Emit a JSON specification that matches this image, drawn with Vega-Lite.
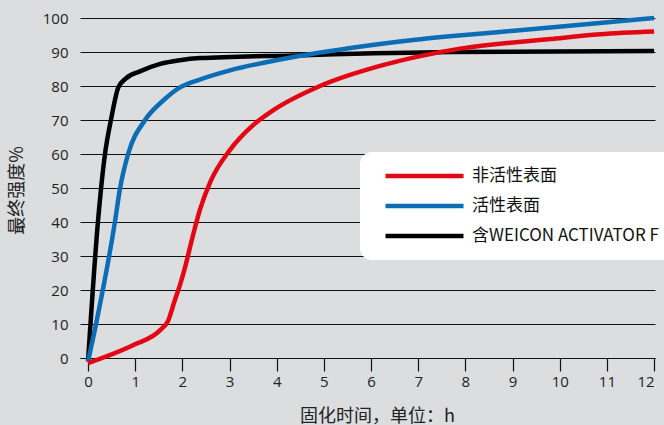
{
  "$schema": "https://vega.github.io/schema/vega-lite/v6.json",
  "width": 575,
  "height": 340,
  "autosize": {"type": "none"},
  "padding": {"left": 80, "top": 18, "right": 9, "bottom": 67},
  "background": "#dcdddf",
  "config": {
    "view": {"stroke": null},
    "font": "Open Sans, Noto Sans CJK SC, sans-serif"
  },
  "data": {
    "values": [
      {"s": "含WEICON ACTIVATOR F", "t": 0, "v": -1},
      {"s": "含WEICON ACTIVATOR F", "t": 0.21, "v": 40},
      {"s": "含WEICON ACTIVATOR F", "t": 0.36, "v": 60},
      {"s": "含WEICON ACTIVATOR F", "t": 0.5, "v": 71},
      {"s": "含WEICON ACTIVATOR F", "t": 0.64, "v": 79.5},
      {"s": "含WEICON ACTIVATOR F", "t": 0.8, "v": 82.2},
      {"s": "含WEICON ACTIVATOR F", "t": 1.1, "v": 84.3},
      {"s": "含WEICON ACTIVATOR F", "t": 1.53, "v": 86.5},
      {"s": "含WEICON ACTIVATOR F", "t": 1.95, "v": 87.6},
      {"s": "含WEICON ACTIVATOR F", "t": 2.37, "v": 88.2},
      {"s": "含WEICON ACTIVATOR F", "t": 4.35, "v": 89},
      {"s": "含WEICON ACTIVATOR F", "t": 7.67, "v": 90},
      {"s": "含WEICON ACTIVATOR F", "t": 12, "v": 90.3},
      {"s": "活性表面", "t": 0, "v": -1},
      {"s": "活性表面", "t": 0.17, "v": 10},
      {"s": "活性表面", "t": 0.57, "v": 40},
      {"s": "活性表面", "t": 0.68, "v": 50},
      {"s": "活性表面", "t": 0.85, "v": 60},
      {"s": "活性表面", "t": 1.21, "v": 70},
      {"s": "活性表面", "t": 1.6, "v": 75.8},
      {"s": "活性表面", "t": 1.95, "v": 79.6},
      {"s": "活性表面", "t": 2.37, "v": 81.9},
      {"s": "活性表面", "t": 3.01, "v": 84.6},
      {"s": "活性表面", "t": 4.07, "v": 87.8},
      {"s": "活性表面", "t": 4.5, "v": 88.9},
      {"s": "活性表面", "t": 5.49, "v": 91},
      {"s": "活性表面", "t": 6.89, "v": 93.5},
      {"s": "活性表面", "t": 7.67, "v": 94.6},
      {"s": "活性表面", "t": 8.73, "v": 95.9},
      {"s": "活性表面", "t": 9.8, "v": 97.2},
      {"s": "活性表面", "t": 10.85, "v": 98.5},
      {"s": "活性表面", "t": 12, "v": 100},
      {"s": "非活性表面", "t": 0, "v": -1.5},
      {"s": "非活性表面", "t": 0.96, "v": 3.8},
      {"s": "非活性表面", "t": 1.53, "v": 8.2},
      {"s": "非活性表面", "t": 1.7, "v": 11},
      {"s": "非活性表面", "t": 1.84, "v": 17},
      {"s": "非活性表面", "t": 1.95, "v": 21.5},
      {"s": "非活性表面", "t": 2.06, "v": 26.8},
      {"s": "非活性表面", "t": 2.2, "v": 34.7},
      {"s": "非活性表面", "t": 2.37, "v": 43.5},
      {"s": "非活性表面", "t": 2.6, "v": 52},
      {"s": "非活性表面", "t": 3.01, "v": 61.2},
      {"s": "非活性表面", "t": 3.5, "v": 68.5},
      {"s": "非活性表面", "t": 3.93, "v": 72.9},
      {"s": "非活性表面", "t": 4.92, "v": 80},
      {"s": "非活性表面", "t": 6.19, "v": 85.9},
      {"s": "非活性表面", "t": 7.04, "v": 88.8},
      {"s": "非活性表面", "t": 7.89, "v": 91},
      {"s": "非活性表面", "t": 9.8, "v": 93.8},
      {"s": "非活性表面", "t": 10.85, "v": 95.2},
      {"s": "非活性表面", "t": 12, "v": 96}
    ]
  },
  "mark": {"type": "line", "strokeWidth": 4.5, "interpolate": "monotone", "clip": false, "strokeCap": "butt"},
  "encoding": {
    "x": {
      "field": "t", "type": "quantitative",
      "scale": {"domain": [-0.17, 12.02], "nice": false, "zero": false},
      "axis": {
        "values": [0,1,2,3,4,5,6,7,8,9,10,11,12],
        "grid": false,
        "domainColor": "#111", "domainWidth": 1.2,
        "tickColor": "#111", "tickSize": 13, "tickWidth": 1.2,
        "labelFontSize": 15, "labelColor": "#222", "labelPadding": 3,
        "labelFont": "Open Sans",
        "title": "固化时间，单位：h",
        "titleFont": "Noto Sans CJK SC", "titleFontSize": 18, "titleFontWeight": "normal",
        "titleColor": "#222", "titleX": 297, "titleY": 58, "titleBaseline": "middle"
      }
    },
    "y": {
      "field": "v", "type": "quantitative",
      "scale": {"domain": [0, 100], "nice": false, "zero": false},
      "axis": {
        "values": [0,10,20,30,40,50,60,70,80,90,100],
        "grid": true, "gridColor": "#111", "gridWidth": 1.2, "gridOpacity": 1,
        "domain": false, "ticks": false,
        "labelFontSize": 15, "labelColor": "#222", "labelPadding": 12,
        "labelFont": "Open Sans",
        "title": "最终强度%",
        "titleFont": "Noto Sans CJK SC", "titleFontSize": 18, "titleFontWeight": "normal",
        "titleColor": "#222", "titleAngle": -90, "titleX": -63, "titleY": 172,
        "titleAlign": "center", "titleBaseline": "middle"
      }
    },
    "color": {
      "field": "s", "type": "nominal",
      "scale": {
        "domain": ["非活性表面", "活性表面", "含WEICON ACTIVATOR F"],
        "range": ["#e30613", "#0a6db5", "#000000"]
      },
      "legend": {
        "title": null,
        "orient": "none",
        "legendX": 280,
        "legendY": 134,
        "fillColor": "#ffffff",
        "cornerRadius": 12,
        "padding": 15,
        "symbolType": "stroke",
        "symbolSize": 6084,
        "symbolStrokeWidth": 4.5,
        "symbolOffset": 8,
        "clipHeight": 18,
        "labelOffset": 6,
        "labelFont": "Noto Sans CJK SC",
        "labelFontSize": 17,
        "labelColor": "#111",
        "rowPadding": 12,
        "labelLimit": 300
      }
    }
  }
}
